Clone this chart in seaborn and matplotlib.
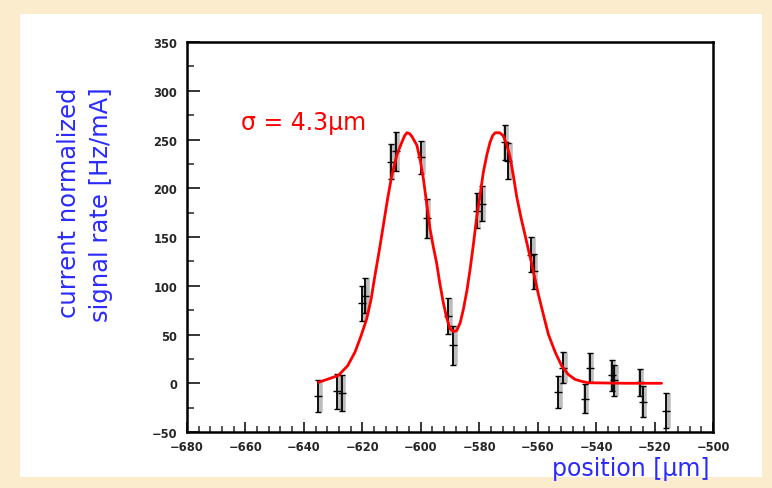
import numpy as np
import pandas as pd
import matplotlib
matplotlib.use("Agg")
import matplotlib.pyplot as plt
import seaborn as sns
from matplotlib.patches import Rectangle

# measured points (position in um, rate in Hz/mA)
pos = [-635.0, -628.5, -627.0, -620.0, -619.0, -610.2, -608.5, -599.8, -598.0,
       -590.6, -588.9, -580.9, -579.2, -571.2, -570.0, -562.2, -561.4, -552.9,
       -551.2, -543.8, -542.1, -534.6, -533.8, -525.1, -524.0, -516.0]
rate = [-13, -8, -10, 82, 90, 227, 238, 232, 169, 69, 39, 177, 184, 247, 228,
        132, 115, -9, 16, -16, 16, 8, 3, 1, -19, -28]
err = [16, 18, 18, 18, 18, 18, 20, 17, 20, 18, 20, 18, 18, 18, 18, 18, 18, 16,
       16, 15, 15, 16, 16, 14, 16, 18]

# fit curve
fit_x = [-635.0, -632.0, -628.2, -625.0, -622.5, -620.5, -618.5, -617.0, -615.7,
         -614.2, -612.8, -611.3, -609.9, -608.2, -606.5, -605.5, -604.7, -603.8,
         -603.0, -601.3, -600.2, -599.1, -598.0, -596.8, -595.7, -594.6, -593.5,
         -592.3, -591.2, -590.0, -588.8, -587.7, -586.5, -585.4, -584.2, -583.1,
         -582.0, -580.9, -579.7, -578.6, -577.4, -576.3, -575.4, -574.5, -573.0,
         -571.8, -570.6, -569.5, -568.3, -567.2, -565.7, -564.3, -562.0, -559.8,
         -558.0, -556.3, -554.0, -551.8, -549.5, -547.2, -545.0, -542.7, -530.0,
         -517.6]
fit_y = [1, 4, 8, 18, 32, 48, 66, 86, 110, 136, 162, 190, 213, 234, 247, 254,
         257, 256, 253, 244, 229, 210, 185, 158, 140, 124, 103, 83, 68, 56, 53,
         54, 62, 76, 95, 117, 142, 169, 193, 216, 234, 247, 254, 257, 257, 254,
         245, 233, 213, 192, 170, 152, 122, 92, 70, 50, 32, 18, 9, 4, 2, 0.5, 0,
         0]

df = pd.DataFrame({"pos": pos, "rate": rate, "err": err})
fit = pd.DataFrame({"x": fit_x, "y": fit_y})

sns.set_style("ticks")
plt.rcParams["font.family"] = ["DejaVu Sans"]

fig = plt.figure(figsize=(7.72, 4.89), dpi=100)
fig.patch.set_facecolor("#fbeccd")
fig.patches.append(Rectangle((20 / 772, 1 - 478 / 489), 742 / 772, 463 / 489,
                             transform=fig.transFigure, facecolor="white",
                             edgecolor="none", zorder=-5))

ax = fig.add_axes([0.2422, 0.1145, 0.6813, 0.7975])
ax.set_facecolor("white")

# grey systematic bars behind the black error bars
ax.errorbar(df["pos"] + 0.5, df["rate"], yerr=df["err"], fmt="none",
            ecolor="#888888", elinewidth=4, alpha=0.55, zorder=2)
ax.errorbar(df["pos"], df["rate"], yerr=df["err"], fmt="_", color="black",
            ecolor="black", elinewidth=1.3, capsize=2, markersize=6, zorder=3)
sns.lineplot(data=fit, x="x", y="y", color="red", lw=2, ax=ax, zorder=4,
             sort=False)

ax.set_xlim(-680, -500)
ax.set_ylim(-50, 350)
ax.set_xticks(np.arange(-680, -499, 20))
ax.set_xticks(np.arange(-680, -499, 4), minor=True)
ax.set_yticks(np.arange(-50, 351, 50))
ax.set_yticks(np.arange(-50, 351, 25), minor=True)
ax.tick_params(axis="both", which="major", direction="in", labelsize=8.3,
               width=1.3, length=9, pad=7)
ax.tick_params(axis="both", which="minor", direction="in", width=1.1, length=5)
ax.tick_params(axis="x", which="major", length=7, pad=6)
ax.tick_params(axis="x", which="minor", length=4)
for lab in ax.get_xticklabels() + ax.get_yticklabels():
    lab.set_fontweight("bold")
for s in ax.spines.values():
    s.set_linewidth(1.8)
    s.set_color("black")
ax.set_xlabel("")
ax.set_ylabel("")

ax.text(-640, 268, "σ = 4.3μm", color="red", fontsize=17, ha="center",
        va="center")

blue = "#2b2bff"
fig.text(710 / 772, 1 - 469 / 489, "position [μm]", color=blue, fontsize=17,
         ha="right", va="center")
fig.text(69 / 772, 1 - 88 / 489, "current normalized", color=blue, fontsize=17.5,
         rotation=90, ha="center", va="top")
fig.text(101 / 772, 1 - 87 / 489, "signal rate [Hz/mA]", color=blue,
         fontsize=17.5, rotation=90, ha="center", va="top")

fig.savefig("out.png", dpi=100, facecolor=fig.get_facecolor())
